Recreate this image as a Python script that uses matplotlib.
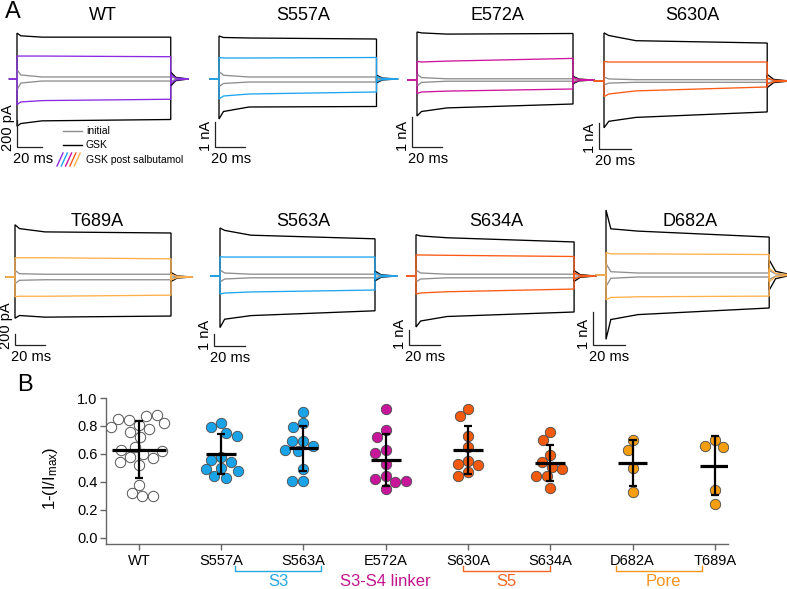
import numpy as np
import matplotlib
matplotlib.use("Agg")
import matplotlib.pyplot as plt
from matplotlib import transforms
from matplotlib.lines import Line2D

plt.rcParams['font.family'] = ['Liberation Sans', 'DejaVu Sans']
plt.rcParams['mathtext.fontset'] = 'custom'
plt.rcParams['mathtext.rm'] = 'Liberation Sans'
plt.rcParams['mathtext.it'] = 'Liberation Sans:italic'

# ------------------------------------------------------------------ data A
trace_names = ["WT", "S557A", "E572A", "S630A", "T689A", "S563A", "S634A", "D682A"]
pulse_ms = [123, 105, 104, 102, 104, 100, 102, 102]
sample_ms = [0, 3, 20]          # plus pulse end
# current levels (nA) at onset, 3 ms, 20 ms, end of pulse
gsk_top = [[0.34, 0.32, 0.31, 0.31], [1.72, 1.66, 1.64, 1.60], [1.60, 1.57, 1.53, 1.55],
           [1.85, 1.75, 1.55, 1.46], [0.95, 0.88, 0.82, 0.80], [4.0, 3.8, 3.4, 3.1],
           [2.75, 2.67, 2.55, 2.27], [1.97, 1.40, 1.33, 1.15]]
sal_top = [[0.17, 0.17, 0.17, 0.165], [0.86, 0.84, 0.84, 0.86], [0.62, 0.60, 0.63, 0.72],
           [0.75, 0.73, 0.73, 0.73], [0.35, 0.35, 0.35, 0.33], [1.60, 1.58, 1.58, 1.58],
           [1.40, 1.40, 1.38, 1.30], [0.68, 0.64, 0.64, 0.62]]
sal_bot = [[-0.19, -0.17, -0.16, -0.15], [-0.80, -0.68, -0.60, -0.52], [-0.45, -0.40, -0.37, -0.30],
           [-0.60, -0.50, -0.38, -0.23], [-0.36, -0.35, -0.35, -0.33], [-1.5, -1.42, -1.33, -1.17],
           [-1.2, -1.13, -1.05, -0.87], [-0.75, -0.68, -0.66, -0.64]]
gsk_bot = [[-0.35, -0.33, -0.31, -0.30], [-1.60, -1.30, -1.12, -1.10], [-1.20, -1.05, -0.93, -0.80],
           [-1.80, -1.55, -1.40, -1.19], [-0.75, -0.70, -0.73, -0.71], [-4.3, -3.6, -3.3, -2.9],
           [-3.4, -3.0, -2.7, -2.4], [-1.95, -1.35, -1.20, -1.00]]
init_top = [[0.07, 0.03, 0.015, 0.015], [0.30, 0.15, 0.08, 0.08], [0.20, 0.08, 0.04, 0.04],
            [0.15, 0.08, 0.05, 0.05], [0.12, 0.06, 0.05, 0.05], [0.5, 0.25, 0.15, 0.15],
            [0.4, 0.2, 0.12, 0.12], [0.35, 0.10, 0.06, 0.06]]
init_bot = [[-0.08, -0.03, -0.015, -0.015], [-0.30, -0.18, -0.12, -0.12], [-0.20, -0.08, -0.04, -0.04],
            [-0.15, -0.08, -0.05, -0.05], [-0.12, -0.06, -0.05, -0.05], [-0.5, -0.25, -0.15, -0.15],
            [-0.4, -0.2, -0.12, -0.12], [-0.35, -0.10, -0.06, -0.06]]
gsk_tail = [0.05, 0.15, 0.12, 0.25, 0.08, 0.4, 0.35, 0.45]
sal_tail = [0.03, 0.10, 0.08, 0.12, 0.05, 0.25, 0.20, 0.20]
scale_nA = [0.2, 1, 1, 1, 0.2, 1, 1, 1]
scale_labels = ["200 pA", "1 nA", "1 nA", "1 nA", "200 pA", "1 nA", "1 nA", "1 nA"]
scale_ms = 20
trace_colors = ["#8A2BE2", "#1EA5EF", "#D0149E", "#FF5A14", "#FFB04A", "#1EA5EF", "#FF5A14", "#FFB04A"]

# ------------------------------------------------------------------ data B
categories = ["WT", "S557A", "S563A", "E572A", "S630A", "S634A", "D682A", "T689A"]
values = [
    [0.81, 0.84, 0.87, 0.88, 0.85, 0.82, 0.78, 0.76, 0.79, 0.72, 0.65, 0.60,
     0.58, 0.57, 0.52, 0.54, 0.38, 0.32, 0.30, 0.30, 0.63, 0.62],
    [0.82, 0.79, 0.75, 0.73, 0.58, 0.56, 0.54, 0.50, 0.49, 0.48, 0.44, 0.43],
    [0.90, 0.82, 0.79, 0.69, 0.69, 0.66, 0.63, 0.62, 0.49, 0.41, 0.41],
    [0.92, 0.77, 0.72, 0.63, 0.61, 0.53, 0.44, 0.42, 0.40, 0.41, 0.35],
    [0.92, 0.87, 0.73, 0.65, 0.55, 0.53, 0.52, 0.47, 0.44],
    [0.76, 0.70, 0.59, 0.54, 0.51, 0.49, 0.44, 0.44, 0.36],
    [0.70, 0.63, 0.50, 0.33],
    [0.70, 0.66, 0.65, 0.34, 0.24],
]
means = [0.63, 0.60, 0.64, 0.555, 0.63, 0.535, 0.535, 0.515]
sds = [0.205, 0.14, 0.16, 0.185, 0.17, 0.13, 0.165, 0.21]
point_colors = ["white", "#1BA3E8", "#1BA3E8", "#C7169A", "#F25A0E", "#F25A0E", "#F59E12", "#F59E12"]
groups = ["S3", "S3-S4 linker", "S5", "Pore"]
group_colors = ["#29A8E0", "#C2168F", "#F26522", "#F7941D"]

# ------------------------------------------------------------------ figure
W, H = 787, 589
fig = plt.figure(figsize=(W / 100, H / 100), dpi=100)


def px_axes(x, y, w, h):
    return fig.add_axes([x / W, 1 - (y + h) / H, w / W, h / H])


def fx(x):
    return x / W


def fy(y):
    return 1 - y / H


# layout of the trace panels (pixels)
t0_px = [17, 219, 417, 604, 15, 220, 416, 606]
base_px = [79, 79, 80, 81, 277, 276, 276, 275]
px_per_ms = [1.25, 1.5, 1.5, 1.6, 1.5, 1.55, 1.55, 1.6]
px_per_nA = [135, 25, 30, 26, 55, 12, 15, 33]
bar_x_px = [17, 215, 412, 599, 15, 214, 409, 593]
bar_top_px = [120, 122, 117, 123, 334, 334, 330, 312]
title_xy = [(103, 15), (303, 15), (497, 15), (692, 15), (97, 222), (303, 222), (496, 222), (690, 222)]

for i, name in enumerate(trace_names):
    pm, pn = px_per_ms[i], px_per_nA[i]
    dur = pulse_ms[i]
    tmin, tmax = -20, dur + 25
    ext = 110 / pn
    ax = px_axes(t0_px[i] + tmin * pm, base_px[i] - 110, (tmax - tmin) * pm, 220)
    ax.set_xlim(tmin, tmax)
    ax.set_ylim(-ext, ext)
    ax.axis('off')
    ts = sample_ms + [dur]

    def draw(levels, tail, color, lw=0.95, z=2):
        t = [-6, 0] + ts + [dur, dur + 0.1, dur + 4, dur + 14]
        v = [0, 0] + list(levels) + [0, tail, tail * 0.25, 0]
        ax.plot(t, v, color=color, lw=lw, zorder=z, solid_joinstyle='miter')

    draw(gsk_top[i], gsk_tail[i], 'black', z=2)
    draw(gsk_bot[i], -gsk_tail[i], 'black', z=2)
    draw(init_top[i], gsk_tail[i] * 0.3, '#8E8E8E', z=3)
    draw(init_bot[i], -gsk_tail[i] * 0.3, '#8E8E8E', z=3)
    draw(sal_top[i], sal_tail[i], trace_colors[i], z=4)
    draw(sal_bot[i], -sal_tail[i], trace_colors[i], z=4)

    # scale bars
    bx = (bar_x_px[i] - t0_px[i]) / pm
    btop = (base_px[i] - bar_top_px[i]) / pn
    bbot = btop - scale_nA[i]
    ax.plot([bx, bx, bx + scale_ms], [btop, bbot, bbot], color='#222222', lw=0.9,
            solid_joinstyle='miter', zorder=5)
    tr = transforms.offset_copy(ax.transData, fig=fig, x=-2, y=-4, units='dots')
    ax.text(bx, bbot, scale_labels[i], rotation=90, ha='right', va='bottom',
            fontsize=10.5, transform=tr)
    tr2 = transforms.offset_copy(ax.transData, fig=fig, x=-4, y=-5, units='dots')
    ax.text(bx, bbot, "%d ms" % scale_ms, ha='left', va='top', fontsize=10.5, transform=tr2)

    fig.text(fx(title_xy[i][0]), fy(title_xy[i][1]), name, ha='center', va='center', fontsize=13)

# legend inside WT panel
leg_items = [("initial", '#8E8E8E', 131), ("GSK", 'black', 145)]
for lab, col, y in leg_items:
    fig.add_artist(Line2D([fx(63), fx(82)], [fy(y), fy(y)], color=col, lw=1.0))
    fig.text(fx(86), fy(y), lab, ha='left', va='center', fontsize=7.5)
slash_cols = ["#8A2BE2", "#1EA5EF", "#D0149E", "#FF5A14", "#FFB04A"]
for k, c in enumerate(slash_cols):
    x = 57 + k * 4.3
    fig.add_artist(Line2D([fx(x), fx(x + 6)], [fy(166), fy(153)], color=c, lw=1.0))
fig.text(fx(86), fy(160), "GSK post salbutamol", ha='left', va='center', fontsize=7.5)

# panel labels
fig.text(fx(13), fy(12), "A", ha='center', va='center', fontsize=17)
fig.text(fx(25), fy(385), "B", ha='center', va='center', fontsize=17)

# ------------------------------------------------------------------ panel B
axb = px_axes(106, 398, 622, 146)
xs = np.arange(1, len(categories) + 1)
axb.set_xlim(0.6, 8.16)
axb.set_ylim(-0.043, 1.0)
px_x = 622 / (8.16 - 0.6)
px_y = 146 / 1.043
diam = 10.8


def swarm(vals):
    placed = []
    offs = np.zeros(len(vals))
    cands = sorted(np.arange(-40, 40.5, 0.5), key=lambda c: (abs(c), c))
    for j, v in enumerate(vals):
        yv = v * px_y
        for c in cands:
            if all((c - ox) ** 2 + (yv - oy) ** 2 >= diam ** 2 for ox, oy in placed):
                offs[j] = c
                placed.append((c, yv))
                break
    return offs / px_x


for k, vals in enumerate(values):
    off = swarm(vals)
    if k == 0:
        axb.scatter(xs[k] + off, vals, s=56, facecolor='white', edgecolor='#555555',
                    linewidths=0.7, zorder=3)
    else:
        axb.scatter(xs[k] + off, vals, s=56, facecolor=point_colors[k], edgecolor='#4a4a4a',
                    linewidths=0.6, zorder=3)
    hw = 0.33 if k == 0 else 0.18
    axb.hlines(means[k], xs[k] - hw, xs[k] + hw, color='black', lw=2.3, zorder=5)
    axb.errorbar(xs[k], means[k], yerr=sds[k], fmt='none', ecolor='black', elinewidth=1.6,
                 capsize=3, capthick=1.6, zorder=5)

for s in ['top', 'right']:
    axb.spines[s].set_visible(False)
for s in ['left', 'bottom']:
    axb.spines[s].set_color('#666666')
    axb.spines[s].set_linewidth(1.0)
axb.set_yticks([0.0, 0.2, 0.4, 0.6, 0.8, 1.0])
axb.set_yticklabels(["0.0", "0.2", "0.4", "0.6", "0.8", "1.0"])
axb.set_xticks(xs)
axb.set_xticklabels(categories)
axb.tick_params(axis='y', length=4.5, width=1.0, color='#666666', pad=1.5, labelsize=10.5)
axb.tick_params(axis='x', length=4.5, width=1.0, color='#666666', pad=3, labelsize=10.5)
axb.set_ylabel("1-(I/I$_{\\mathrm{max}}$)", fontsize=12)
axb.yaxis.set_label_coords((60 - 106) / 622, 0.45)

# group brackets and labels
blend = transforms.blended_transform_factory(axb.transData, fig.transFigure)
brackets = [(2 + 0.17, 3 + 0.21), None, (5 - 0.06, 6 + 0.0), (7 - 0.2, 8 - 0.15)]
label_x = [2.7, 4.0, 5.47, 7.37]
for g, name in enumerate(groups):
    if brackets[g] is not None:
        a, b = brackets[g]
        axb.add_artist(Line2D([a, a, b, b], [fy(566), fy(571), fy(571), fy(566)],
                              transform=blend, color=group_colors[g], lw=1.0, clip_on=False))
    axb.text(label_x[g], fy(582), name, transform=blend, ha='center', va='center',
             color=group_colors[g], fontsize=12)

fig.savefig("out.png", dpi=100)
